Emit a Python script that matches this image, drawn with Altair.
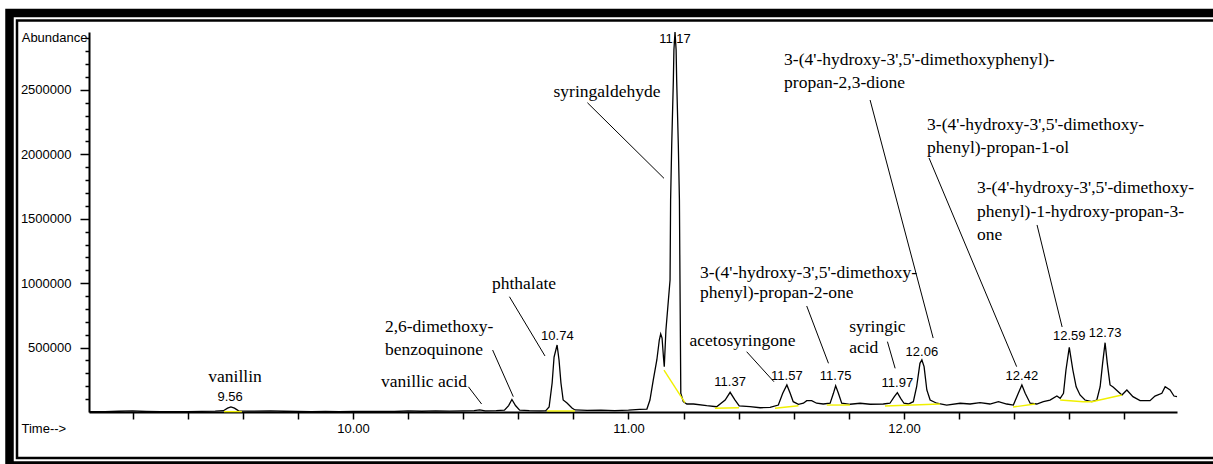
import altair as alt
import pandas as pd

# ---------------- chromatogram trace (time in min, abundance) ----------------
TIME = [
    9.042, 9.10, 9.15, 9.20, 9.25, 9.30, 9.35, 9.40, 9.45, 9.50,
    9.53, 9.545, 9.557, 9.57, 9.585, 9.62, 9.70, 9.75, 9.80, 9.85,
    9.90, 9.95, 10.00, 10.05, 10.10, 10.15, 10.20, 10.25, 10.30, 10.35,
    10.40, 10.44, 10.46, 10.48, 10.52, 10.55, 10.565, 10.577, 10.59, 10.605,
    10.64, 10.68, 10.70, 10.712, 10.723, 10.730, 10.741, 10.748, 10.755, 10.763,
    10.777, 10.795, 10.806, 10.85, 10.90, 10.95, 11.00, 11.04, 11.067, 11.078,
    11.090, 11.103, 11.112, 11.117, 11.122, 11.127, 11.130, 11.136, 11.145, 11.151,
    11.153, 11.157, 11.163, 11.165, 11.169, 11.173, 11.175, 11.181, 11.185, 11.187,
    11.190, 11.199, 11.212, 11.236, 11.284, 11.320, 11.351, 11.369, 11.387, 11.402,
    11.441, 11.478, 11.514, 11.544, 11.560, 11.575, 11.587, 11.598, 11.617, 11.635,
    11.647, 11.665, 11.683, 11.707, 11.732, 11.744, 11.752, 11.762, 11.774, 11.804,
    11.841, 11.877, 11.925, 11.949, 11.965, 11.976, 11.988, 12.000, 12.016, 12.034,
    12.046, 12.058, 12.065, 12.073, 12.083, 12.095, 12.119, 12.155, 12.204, 12.240,
    12.276, 12.312, 12.343, 12.373, 12.397, 12.415, 12.428, 12.440, 12.458, 12.482,
    12.506, 12.530, 12.555, 12.567, 12.579, 12.588, 12.600, 12.613, 12.625, 12.639,
    12.657, 12.682, 12.700, 12.712, 12.721, 12.730, 12.738, 12.748, 12.759, 12.791,
    12.809, 12.831, 12.857, 12.893, 12.911, 12.936, 12.948, 12.966, 12.980, 12.991,
]
ABUND = [
    3000, 2000, 6000, 8000, 4000, 2000, 3000, 2000, 5000, 7000,
    10000, 30000, 40000, 30000, 9000, 7000, 8000, 6000, 5000, 3000,
    4000, 3000, 5000, 4000, 5000, 4000, 9000, 6000, 8000, 7000,
    9000, 10000, 16000, 9000, 10000, 14000, 50000, 97000, 50000, 15000,
    10000, 8000, 10000, 39000, 225000, 427000, 520000, 404000, 225000, 93000,
    70000, 31000, 16000, 12000, 14000, 10000, 14000, 20000, 23000, 93000,
    248000, 404000, 559000, 606000, 574000, 427000, 352000, 637000, 869000, 1025000,
    1646000, 2073000, 2577000, 2810000, 2950000, 2810000, 2577000, 2073000, 1646000, 1025000,
    147000, 80000, 62000, 62000, 49000, 41000, 93000, 153000, 93000, 47000,
    41000, 33000, 36000, 54000, 145000, 210000, 145000, 80000, 60000, 68000,
    88000, 88000, 68000, 62000, 68000, 145000, 204000, 145000, 68000, 60000,
    68000, 60000, 62000, 68000, 119000, 150000, 106000, 68000, 62000, 80000,
    196000, 378000, 404000, 352000, 171000, 93000, 68000, 54000, 68000, 62000,
    72000, 62000, 80000, 62000, 54000, 145000, 210000, 145000, 68000, 62000,
    80000, 93000, 124000, 106000, 145000, 326000, 502000, 326000, 196000, 132000,
    93000, 80000, 93000, 196000, 378000, 538000, 378000, 210000, 194000, 132000,
    171000, 119000, 88000, 88000, 124000, 145000, 196000, 171000, 124000, 119000,
]

# ---------------- integration baselines (yellow) ----------------
BASE_SEG = [1, 1, 2, 2, 3, 3, 4, 4, 5, 5, 6, 6, 7, 7, 8, 8, 9, 9, 9, 9]
BASE_T = [9.532, 9.597, 10.704, 10.806, 11.129, 11.205, 11.314, 11.401,
          11.532, 11.617, 11.720, 11.804, 11.931, 12.131, 12.396, 12.476,
          12.567, 12.650, 12.682, 12.791]
BASE_V = [3000, 3000, 8000, 8000, 326000, 72000, 29000, 33000,
          29000, 49000, 54000, 54000, 47000, 62000, 39000, 62000,
          93000, 80000, 80000, 132000]

# ---------------- retention-time labels ----------------
PEAK_TEXT = ["9.56", "10.74", "11.17", "11.37", "11.57", "11.75", "11.97",
             "12.06", "12.42", "12.59", "12.73"]
PEAK_T = [9.554, 10.742, 11.169, 11.369, 11.575, 11.752, 11.976,
          12.065, 12.428, 12.600, 12.730]
PEAK_V = [116000, 590000, 2896000, 231000, 282000, 282000, 223000,
          468000, 282000, 590000, 616000]

# ---------------- compound names (centred) ----------------
NAMEC_TEXT = ["vanillin", "vanillic acid", "phthalate", "syringaldehyde", "acetosyringone"]
NAMEC_T = [9.572, 10.258, 10.621, 10.922, 11.414]
NAMEC_V = [272000, 233000, 991000, 2484000, 553000]

# ---------------- compound names (left aligned, one row per text line) ----------------
NAMEL_TEXT = [
    "2,6-dimethoxy-", "benzoquinone",
    "3-(4'-hydroxy-3',5'-dimethoxyphenyl)-", "propan-2,3-dione",
    "3-(4'-hydroxy-3',5'-dimethoxy-", "phenyl)-propan-1-ol",
    "3-(4'-hydroxy-3',5'-dimethoxy-", "phenyl)-1-hydroxy-propan-3-", "one",
    "3-(4'-hydroxy-3',5'-dimethoxy-", "phenyl)-propan-2-one",
    "syringic", "acid",
]
NAMEL_T = [10.116, 10.116, 11.565, 11.565, 12.084, 12.084,
           12.265, 12.265, 12.265, 11.260, 11.260, 11.801, 11.801]
NAMEL_V = [657500, 481000, 2733000, 2554000, 2228000, 2047000,
           1737000, 1555000, 1374000, 1077000, 921000, 662000, 494000]

# ---------------- leader lines ----------------
LEAD_T1 = [10.419, 10.507, 10.568, 10.851, 11.877, 12.091, 12.483, 11.429, 11.647, 11.940]
LEAD_V1 = [196000, 481000, 895000, 2401000, 2422000, 1972000, 1452000, 468000, 823000, 546000]
LEAD_T2 = [10.467, 10.582, 10.697, 11.129, 12.106, 12.409, 12.574, 11.528, 11.726, 11.968]
LEAD_V2 = [62000, 119000, 435000, 1814000, 574000, 352000, 660000, 235000, 378000, 339000]

# ---------------- axes ----------------
X_DOMAIN = [9.042, 12.991]
Y_DOMAIN = [0, 2950000]
X_TICKS = [9.2, 9.4, 9.6, 9.8, 10.0, 10.2, 10.4, 10.6, 10.8, 11.0,
           11.2, 11.4, 11.6, 11.8, 12.0, 12.2, 12.4, 12.6, 12.8]
Y_TICKS = [100000, 200000, 300000, 400000, 500000, 600000, 700000, 800000, 900000,
           1000000, 1100000, 1200000, 1300000, 1400000, 1500000, 1600000, 1700000,
           1800000, 1900000, 2000000, 2100000, 2200000, 2300000, 2400000, 2500000,
           2600000, 2700000, 2800000, 2900000]

SANS = "Liberation Sans"
SERIF = "Liberation Serif"

MAJOR_Y = "abs(datum.value / 500000 - round(datum.value / 500000)) < 0.01"

xs = alt.Scale(domain=X_DOMAIN, nice=False, zero=False)
ys = alt.Scale(domain=Y_DOMAIN, nice=False, zero=False)

trace_df = pd.DataFrame({"t": TIME, "v": ABUND})
base_df = pd.DataFrame({"seg": BASE_SEG, "t": BASE_T, "v": BASE_V})
peak_df = pd.DataFrame({"label": PEAK_TEXT, "t": PEAK_T, "v": PEAK_V})
namec_df = pd.DataFrame({"label": NAMEC_TEXT, "t": NAMEC_T, "v": NAMEC_V})
namel_df = pd.DataFrame({"label": NAMEL_TEXT, "t": NAMEL_T, "v": NAMEL_V})
lead_df = pd.DataFrame({"t1": LEAD_T1, "v1": LEAD_V1, "t2": LEAD_T2, "v2": LEAD_V2})

x_axis = alt.Axis(
    values=X_TICKS,
    labelExpr="abs(datum.value - round(datum.value)) < 0.01 ? format(datum.value, '.2f') : ''",
    tickSize=7, tickWidth=1.5, domainWidth=2, labelPadding=3,
    labelFont=SANS, labelFontSize=13, labelColor="black",
    domainColor="black", tickColor="black", grid=False, labelFlush=False,
    labelOverlap=False,
    title="Time-->", titleX=-68, titleY=16, titleAlign="left", titleBaseline="middle",
    titleFont=SANS, titleFontSize=13, titleFontWeight="normal", titleColor="black",
)
y_axis = alt.Axis(
    values=Y_TICKS,
    labelExpr=MAJOR_Y + " ? format(datum.value, 'd') : ''",
    tickSize={"condition": {"test": MAJOR_Y, "value": 9}, "value": 4},
    tickWidth=1.5, domainWidth=2, labelPadding=9,
    labelFont=SANS, labelFontSize=13, labelColor="black",
    domainColor="black", tickColor="black", grid=False, labelFlush=False,
    labelOverlap=False, labelBound=False,
    title="Abundance", titleAngle=0, titleX=-2, titleY=5, titleAlign="right",
    titleBaseline="middle", titleFont=SANS, titleFontSize=13,
    titleFontWeight="normal", titleColor="black",
)


def X(field):
    return alt.X(field, scale=xs, axis=x_axis)


def Y(field):
    return alt.Y(field, scale=ys, axis=y_axis)


one = pd.DataFrame({"k": [0]})
outer = alt.Chart(one).mark_rect(filled=False, stroke="black", strokeWidth=8.5).encode(
    x=alt.value(-79.5), x2=alt.value(1160), y=alt.value(-19), y2=alt.value(433.5))
inner = alt.Chart(one).mark_rect(filled=False, stroke="black", strokeWidth=2.5).encode(
    x=alt.value(-72), x2=alt.value(1160), y=alt.value(-11.5), y2=alt.value(426))

peaks = alt.Chart(peak_df).mark_text(font=SANS, fontSize=13, color="black",
                                      align="center", baseline="middle").encode(
    x=X("t:Q"), y=Y("v:Q"), text="label:N")

trace = alt.Chart(trace_df).mark_line(color="black", strokeWidth=1.3).encode(
    x=X("t:Q"), y=Y("v:Q"), order="t:Q")

base = alt.Chart(base_df).mark_line(color="#f0f000", strokeWidth=1.4).encode(
    x=X("t:Q"), y=Y("v:Q"), detail="seg:N")

namec = alt.Chart(namec_df).mark_text(font=SERIF, fontSize=17.5, color="black",
                                      align="center", baseline="middle").encode(
    x=X("t:Q"), y=Y("v:Q"), text="label:N")

namel = alt.Chart(namel_df).mark_text(font=SERIF, fontSize=17.5, color="black",
                                      align="left", baseline="middle").encode(
    x=X("t:Q"), y=Y("v:Q"), text="label:N")

leads = alt.Chart(lead_df).mark_rule(color="black", strokeWidth=1).encode(
    x=X("t1:Q"), y=Y("v1:Q"), x2="t2:Q", y2="v2:Q")

chart = alt.layer(outer, inner, peaks, trace, base, namec, namel, leads).properties(
    width=1088, height=380,
    autosize=alt.AutoSizeParams(type="none"),
    padding={"left": 89, "top": 32, "right": 36, "bottom": 52},
    background="white",
).configure_view(stroke=None).configure_axis(labelOverlap=False)

chart.save("out.html", embed_options={"renderer": "svg", "actions": False})
